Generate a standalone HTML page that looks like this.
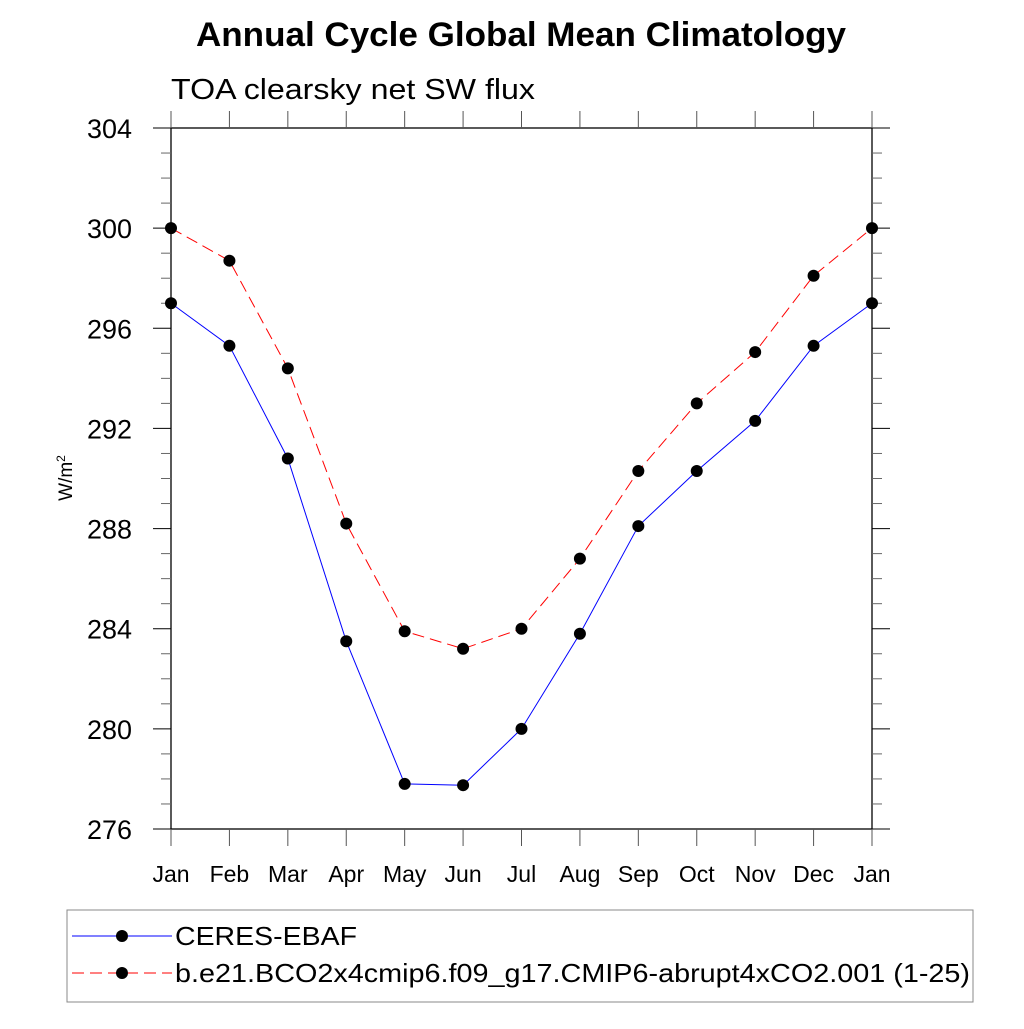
<!DOCTYPE html>
<html><head><meta charset="utf-8"><style>
body{margin:0;background:#fff}
svg text{font-family:"Liberation Sans",Arial,sans-serif}
</style></head><body>
<svg id="c" width="1024" height="1024" xmlns="http://www.w3.org/2000/svg">
<text x="196" y="46" font-size="34" font-weight="bold" textLength="650" lengthAdjust="spacingAndGlyphs">Annual Cycle Global Mean Climatology</text>
<text x="171" y="99" font-size="29" textLength="364" lengthAdjust="spacingAndGlyphs">TOA clearsky net SW flux</text>
<text transform="translate(72,478) rotate(-90)" text-anchor="middle" font-size="19">W/m<tspan dy="-7" font-size="12">2</tspan></text>
<g id="axes"></g>
<g id="series"></g>
<rect x="67" y="910" width="906" height="92" fill="none" stroke="#888" stroke-width="1"/>
<g>
<line x1="72" y1="936" x2="172" y2="936" stroke="#00f" stroke-width="1"/>
<circle cx="122" cy="936" r="6" fill="#000"/>
<text x="175" y="945" font-size="26" textLength="182" lengthAdjust="spacingAndGlyphs">CERES-EBAF</text></g>
<g>
<line x1="72" y1="973" x2="172" y2="973" stroke="#f00" stroke-width="1" stroke-dasharray="12,6"/>
<circle cx="122" cy="973" r="6" fill="#000"/>
<text x="175" y="982" font-size="26" textLength="795" lengthAdjust="spacingAndGlyphs">b.e21.BCO2x4cmip6.f09_g17.CMIP6-abrupt4xCO2.001 (1-25)</text></g>
</svg>
<script>
const months=["Jan","Feb","Mar","Apr","May","Jun","Jul","Aug","Sep","Oct","Nov","Dec","Jan"];
const ceres=[297.0,295.3,290.8,283.5,277.8,277.75,280.0,283.8,288.1,290.3,292.3,295.3,297.0];
const model=[300.0,298.7,294.4,288.2,283.9,283.2,284.0,286.8,290.3,293.0,295.05,298.1,300.0];
const yTicks=[276,280,284,288,292,296,300,304];
const NS="http://www.w3.org/2000/svg";
const L=171,R=872,T=128,B=829,ymin=276,ymax=304;
const xs=i=>L+(R-L)*i/(months.length-1);
const ys=v=>B-(B-T)*(v-ymin)/(ymax-ymin);
function mk(t,a,p){const e=document.createElementNS(NS,t);for(const k in a)e.setAttribute(k,a[k]);p.appendChild(e);return e;}
const ax=document.getElementById('axes'),se=document.getElementById('series');
const box=mk('rect',{x:L,y:T,width:R-L,height:B-T,fill:'none',stroke:'#000','stroke-width':1.3},ax);


for(let v=ymin;v<=ymax;v++){
 const y=ys(v),maj=(v-ymin)%4===0;
 mk('line',{x1:L-(maj?18:10),y1:y,x2:L,y2:y,stroke:maj?'#000':'#666','stroke-width':1},ax);
 mk('line',{x1:R,y1:y,x2:R+(maj?18:10),y2:y,stroke:maj?'#000':'#666','stroke-width':1},ax);
}
yTicks.forEach(v=>{const t=mk('text',{x:87,y:ys(v)+10,'font-size':27,textLength:45,lengthAdjust:'spacingAndGlyphs'},ax);t.textContent=v;

});
months.forEach((m,i)=>{const x=xs(i);
 mk('line',{x1:x,y1:T-17,x2:x,y2:T,stroke:'#555','stroke-width':1},ax);
 mk('line',{x1:x,y1:B,x2:x,y2:B+17,stroke:'#555','stroke-width':1},ax);
 const t=mk('text',{x:x,y:882,'text-anchor':'middle','font-size':23},ax);t.textContent=m;
 
 });
function draw(vals,color,dash,name){
 const g=mk('g',{},se);
 
 
 const a={points:vals.map((v,i)=>xs(i)+','+ys(v)).join(' '),fill:'none',stroke:color,'stroke-width':1};
 if(dash)a['stroke-dasharray']=dash;
 mk('polyline',a,g);
 vals.forEach((v,i)=>{const c=mk('circle',{cx:xs(i),cy:ys(v),r:6,fill:'#000'},g);
 
 });
}
draw(ceres,'#00f',null,'series-ceres');
draw(model,'#f00','12,6','series-model');
</script>
</body></html>
